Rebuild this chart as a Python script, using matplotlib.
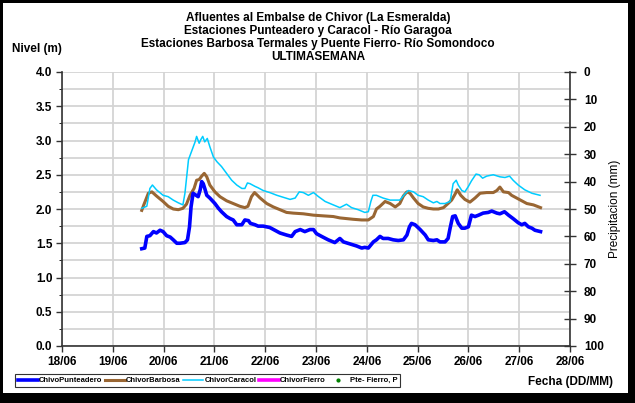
import numpy as np
import matplotlib.pyplot as plt
from matplotlib.patches import Rectangle
from matplotlib.ticker import MultipleLocator

plt.rcParams['font.family'] = ['Liberation Sans', 'DejaVu Sans']
plt.rcParams['font.weight'] = 'bold'

# Time in days counted from 18/06 00:00
dias = ['18/06', '19/06', '20/06', '21/06', '22/06', '23/06',
        '24/06', '25/06', '26/06', '27/06', '28/06']

# ChivoPunteadero level (m)
t_punt = [1.57, 1.63, 1.67, 1.73, 1.80, 1.86, 1.93, 1.99, 2.06, 2.13, 2.19, 2.26,
          2.32, 2.42, 2.47, 2.51, 2.54, 2.58, 2.64, 2.68, 2.72, 2.75, 2.78, 2.81,
          2.85, 2.91, 3.01, 3.08, 3.14, 3.24, 3.31, 3.37, 3.44, 3.54, 3.60, 3.67,
          3.71, 3.80, 3.86, 3.96, 4.09, 4.19, 4.29, 4.42, 4.52, 4.59, 4.69, 4.78,
          4.88, 4.95, 5.01, 5.11, 5.24, 5.37, 5.47, 5.54, 5.67, 5.80, 5.90, 5.96,
          6.03, 6.13, 6.19, 6.26, 6.32, 6.42, 6.52, 6.62, 6.72, 6.79, 6.84, 6.88,
          6.95, 7.05, 7.15, 7.21, 7.31, 7.38, 7.44, 7.54, 7.60, 7.64, 7.69, 7.74,
          7.80, 7.87, 7.93, 8.00, 8.06, 8.13, 8.20, 8.29, 8.39, 8.46, 8.56, 8.62,
          8.71, 8.79, 8.88, 8.98, 9.05, 9.11, 9.18, 9.25, 9.31, 9.42]
n_punt = [1.42, 1.43, 1.60, 1.61, 1.67, 1.65, 1.69, 1.67, 1.61, 1.59, 1.55, 1.50,
          1.50, 1.51, 1.55, 1.74, 2.03, 2.23, 2.20, 2.18, 2.28, 2.40, 2.37, 2.30,
          2.20, 2.16, 2.08, 2.01, 1.96, 1.89, 1.86, 1.84, 1.77, 1.77, 1.84, 1.83,
          1.79, 1.77, 1.75, 1.75, 1.73, 1.69, 1.65, 1.62, 1.60, 1.67, 1.70, 1.67,
          1.70, 1.70, 1.64, 1.60, 1.55, 1.51, 1.57, 1.52, 1.49, 1.46, 1.43, 1.44,
          1.43, 1.52, 1.55, 1.60, 1.57, 1.57, 1.55, 1.54, 1.55, 1.62, 1.74, 1.79,
          1.77, 1.70, 1.62, 1.55, 1.54, 1.55, 1.52, 1.52, 1.57, 1.72, 1.89, 1.90,
          1.79, 1.72, 1.72, 1.74, 1.91, 1.89, 1.91, 1.94, 1.95, 1.97, 1.94, 1.93,
          1.96, 1.91, 1.86, 1.80, 1.77, 1.79, 1.74, 1.72, 1.69, 1.67]

# ChivorBarbosa level (m)
t_barb = [1.57, 1.61, 1.70, 1.77, 1.86, 1.99, 2.09, 2.19, 2.29, 2.38, 2.45, 2.52,
          2.60, 2.65, 2.70, 2.75, 2.80, 2.85, 2.91, 3.01, 3.11, 3.24, 3.37, 3.50,
          3.60, 3.66, 3.73, 3.79, 3.86, 3.90, 4.03, 4.16, 4.29, 4.42, 4.55, 4.75,
          4.95, 5.14, 5.34, 5.47, 5.60, 5.73, 5.90, 6.03, 6.13, 6.19, 6.26, 6.36,
          6.46, 6.56, 6.65, 6.72, 6.79, 6.85, 6.92, 7.01, 7.11, 7.21, 7.31, 7.41,
          7.51, 7.60, 7.67, 7.74, 7.78, 7.85, 7.93, 8.03, 8.13, 8.23, 8.36, 8.49,
          8.56, 8.62, 8.69, 8.79, 8.85, 8.95, 9.05, 9.15, 9.28, 9.42]
n_barb = [1.98, 2.06, 2.23, 2.25, 2.19, 2.11, 2.04, 2.00, 1.99, 2.01, 2.07, 2.20,
          2.30, 2.42, 2.43, 2.48, 2.52, 2.47, 2.35, 2.25, 2.18, 2.12, 2.08, 2.04,
          2.02, 2.04, 2.18, 2.24, 2.19, 2.16, 2.08, 2.03, 1.99, 1.95, 1.94, 1.93,
          1.91, 1.90, 1.89, 1.87, 1.86, 1.85, 1.84, 1.84, 1.89, 2.00, 2.04, 2.11,
          2.08, 2.03, 2.08, 2.19, 2.25, 2.23, 2.16, 2.08, 2.03, 2.01, 2.00, 2.00,
          2.02, 2.08, 2.13, 2.22, 2.28, 2.20, 2.14, 2.10, 2.16, 2.23, 2.24, 2.24,
          2.27, 2.32, 2.25, 2.24, 2.20, 2.16, 2.12, 2.08, 2.06, 2.02]

# ChivorCaracol level (m)
t_cara = [1.57, 1.67, 1.73, 1.78, 1.86, 1.99, 2.09, 2.19, 2.29, 2.38, 2.42, 2.49,
          2.55, 2.62, 2.65, 2.70, 2.73, 2.77, 2.81, 2.86, 2.91, 2.98, 3.05, 3.14,
          3.24, 3.34, 3.44, 3.54, 3.60, 3.65, 3.70, 3.80, 3.86, 3.96, 4.09, 4.23,
          4.36, 4.49, 4.59, 4.67, 4.75, 4.85, 4.95, 5.05, 5.18, 5.34, 5.47, 5.60,
          5.70, 5.83, 5.96, 6.03, 6.08, 6.12, 6.19, 6.32, 6.46, 6.65, 6.75, 6.82,
          6.92, 7.01, 7.11, 7.21, 7.31, 7.38, 7.44, 7.54, 7.64, 7.70, 7.76, 7.80,
          7.87, 7.93, 8.00, 8.06, 8.15, 8.21, 8.28, 8.36, 8.49, 8.62, 8.72, 8.81,
          8.88, 8.98, 9.11, 9.25, 9.41]
n_cara = [2.01, 2.04, 2.30, 2.35, 2.28, 2.20, 2.18, 2.13, 2.09, 2.06, 2.23, 2.72,
          2.84, 2.98, 3.06, 2.96, 3.01, 3.06, 2.98, 3.03, 2.91, 2.76, 2.69, 2.62,
          2.52, 2.42, 2.35, 2.30, 2.30, 2.38, 2.37, 2.33, 2.31, 2.27, 2.24, 2.20,
          2.17, 2.14, 2.16, 2.25, 2.24, 2.20, 2.24, 2.18, 2.11, 2.06, 2.02, 2.07,
          2.02, 1.99, 1.95, 1.96, 2.11, 2.20, 2.20, 2.16, 2.13, 2.13, 2.22, 2.27,
          2.25, 2.20, 2.18, 2.13, 2.09, 2.11, 2.08, 2.08, 2.11, 2.37, 2.42, 2.35,
          2.27, 2.25, 2.33, 2.41, 2.51, 2.50, 2.45, 2.48, 2.50, 2.47, 2.46, 2.48,
          2.42, 2.35, 2.28, 2.23, 2.20]

# ChivorFierro level and Pte-Fierro rain: no readings this week
t_fier, n_fier = [], []
t_prec, prec = [], []

fig = plt.figure(figsize=(6.35, 4.03), dpi=100)
fig.patch.set_facecolor('black')
# white sheet inside the black frame
fig.patches.append(Rectangle((3 / 635, 10 / 403), 625 / 635, 390 / 403,
                             transform=fig.transFigure, facecolor='white',
                             edgecolor='none', zorder=-10))

ax = fig.add_axes([62 / 635, 57 / 403, 508 / 635, 274 / 403])
ax.set_facecolor('white')

l1, = ax.plot(t_punt, n_punt, color='#0000ff', lw=2.6, label='ChivoPunteadero', zorder=4)
l2, = ax.plot(t_barb, n_barb, color='#996633', lw=2.2, label='ChivorBarbosa', zorder=3)
l3, = ax.plot(t_cara, n_cara, color='#00ccff', lw=1.1, label='ChivorCaracol', zorder=3)
l4, = ax.plot(t_fier, n_fier, color='#ff00ff', lw=2.6, label='ChivorFierro')

ax.set_xlim(0, 10)
ax.set_ylim(0, 4)
ax.set_xticks(range(len(dias)))
ax.set_xticklabels(dias)
ax.yaxis.set_major_locator(MultipleLocator(0.5))
ax.yaxis.set_minor_locator(MultipleLocator(0.25))
ax.yaxis.set_major_formatter(lambda v, p: f'{v:.1f}')
ax.grid(True, which='both', axis='y', color='#d4d4d4', lw=1.3, zorder=0)
ax.grid(True, which='major', axis='x', color='#d4d4d4', lw=1.3, zorder=0)
ax.set_axisbelow(True)
ax.tick_params(axis='both', which='major', labelsize=8.5, length=4, width=1,
               color='#333333', pad=3)
ax.tick_params(axis='y', which='minor', left=False)
for s in ['top', 'right']:
    ax.spines[s].set_visible(False)
for s in ['left', 'bottom']:
    ax.spines[s].set_color('#333333')
    ax.spines[s].set_linewidth(1.2)

# Precipitation axis, inverted
ax2 = ax.twinx()
l5, = ax2.plot(t_prec, prec, ls='none', marker='o', ms=2, color='#008000',
               label='Pte- Fierro, P')
ax2.set_ylim(100, 0)
ax2.yaxis.set_major_locator(MultipleLocator(10))
ax2.tick_params(axis='y', labelsize=8.5, direction='inout', length=8, width=1,
                color='#333333', pad=6)
for s in ['top', 'left', 'bottom']:
    ax2.spines[s].set_visible(False)
ax2.spines['right'].set_color('#333333')
ax2.spines['right'].set_linewidth(1.2)
ax2.set_ylabel('Precipitacion (mm)', fontsize=8.5, labelpad=4)

fig.text(318 / 635, 1 - 18 / 403, 'Afluentes al Embalse de Chivor (La Esmeralda)',
         ha='center', va='center', fontsize=8.5)
fig.text(318 / 635, 1 - 31 / 403, 'Estaciones Punteadero y Caracol - Río Garagoa',
         ha='center', va='center', fontsize=8.5)
fig.text(318 / 635, 1 - 44 / 403,
         'Estaciones Barbosa Termales y Puente Fierro- Río Somondoco',
         ha='center', va='center', fontsize=8.5)
fig.text(318 / 635, 1 - 57 / 403, 'ULTIMASEMANA', ha='center', va='center', fontsize=8.5)
fig.text(12 / 635, 1 - 49 / 403, 'Nivel (m)', ha='left', va='center', fontsize=8.5)
fig.text(570 / 635, 1 - 382 / 403, 'Fecha (DD/MM)', ha='center', va='center', fontsize=8.5)

leg = fig.legend(handles=[l1, l2, l3, l4, l5], loc='lower left',
                 bbox_to_anchor=(15 / 635, 16 / 403, 385 / 635, 16 / 403),
                 mode='expand', ncol=5, fontsize=5.5, frameon=True, fancybox=False,
                 borderaxespad=0, handlelength=2.6, handletextpad=0.2,
                 columnspacing=1.0, borderpad=0.35, markerscale=1)
leg.get_frame().set_edgecolor('black')
leg.get_frame().set_linewidth(0.8)

fig.savefig('out.png', dpi=100, facecolor=fig.get_facecolor())
